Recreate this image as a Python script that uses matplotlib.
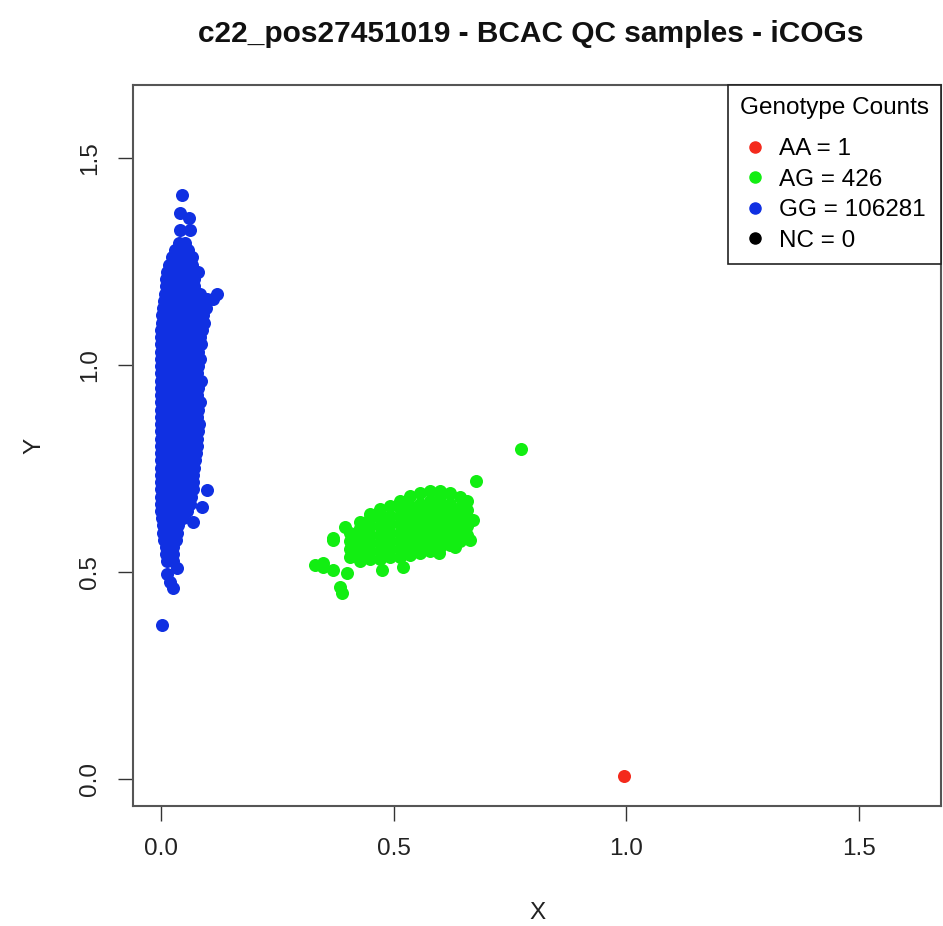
import matplotlib
matplotlib.use("Agg")
import matplotlib.pyplot as plt
from matplotlib.lines import Line2D

plt.rcParams['font.family'] = ['Liberation Sans', 'DejaVu Sans']

# --------------------------------------------------------------------------
# DATA
# --------------------------------------------------------------------------

title = "c22_pos27451019 - BCAC QC samples - iCOGs"
genotypes = ["AA", "AG", "GG", "NC"]
counts = [1, 426, 106281, 0]
colors = ["#f42a1c", "#12ee12", "#1030e2", "#000000"]

# AA: single sample
aa_x = [0.995]
aa_y = [0.007]

# AG cluster, by column: (x, [y values])
ag_cols = [
    (0.331, [0.517]),
    (0.348, [0.512, 0.522]),
    (0.370, [0.505, 0.577, 0.582]),
    (0.385, [0.464]),
    (0.389, [0.449]),
    (0.396, [0.609]),
    (0.400, [0.498]),
    (0.406, [0.535, 0.555, 0.575, 0.595]),
    (0.428, [0.525, 0.545, 0.565, 0.585, 0.605, 0.620]),
    (0.449, [0.530, 0.550, 0.570, 0.590, 0.610, 0.630, 0.640]),
    (0.471, [0.530, 0.550, 0.570, 0.590, 0.610, 0.630, 0.652]),
    (0.475, [0.505]),
    (0.492, [0.535, 0.555, 0.575, 0.595, 0.615, 0.635, 0.660]),
    (0.514, [0.535, 0.555, 0.575, 0.595, 0.615, 0.635, 0.655, 0.670]),
    (0.520, [0.512]),
    (0.535, [0.540, 0.560, 0.580, 0.600, 0.620, 0.640, 0.660, 0.684]),
    (0.557, [0.545, 0.565, 0.585, 0.605, 0.625, 0.645, 0.665, 0.690]),
    (0.578, [0.550, 0.570, 0.590, 0.610, 0.630, 0.650, 0.670, 0.695]),
    (0.598, [0.546]),
    (0.600, [0.560, 0.580, 0.600, 0.620, 0.640, 0.660, 0.680, 0.696]),
    (0.622, [0.565, 0.585, 0.605, 0.625, 0.645, 0.665, 0.690]),
    (0.632, [0.560]),
    (0.643, [0.575, 0.595, 0.615, 0.635, 0.655, 0.680]),
    (0.658, [0.590, 0.610, 0.630, 0.650, 0.670]),
    (0.665, [0.577]),
    (0.671, [0.626]),
    (0.677, [0.720]),
    (0.774, [0.797]),
]

# GG cluster, by row: (y, [x values])
gg_rows = [
    (1.411, [0.045]),
    (1.367, [0.041]),
    (1.355, [0.060]),
    (1.326, [0.041, 0.062]),
    (1.295, [0.038, 0.052]),
    (1.278, [0.030, 0.046, 0.058]),
    (1.260, [0.024, 0.040, 0.056, 0.066]),
    (1.242, [0.018, 0.034, 0.050, 0.066]),
    (1.225, [0.014, 0.030, 0.046, 0.062, 0.080]),
    (1.208, [0.012, 0.028, 0.044, 0.060, 0.072]),
    (1.190, [0.010, 0.026, 0.042, 0.058, 0.072]),
    (1.172, [0.008, 0.024, 0.040, 0.056, 0.072, 0.084, 0.120]),
    (1.160, [0.100, 0.112]),
    (1.155, [0.006, 0.022, 0.038, 0.054, 0.070, 0.086]),
    (1.138, [0.004, 0.020, 0.036, 0.052, 0.068, 0.084, 0.096]),
    (1.120, [0.003, 0.019, 0.035, 0.051, 0.067, 0.083, 0.090]),
    (1.102, [0.002, 0.018, 0.034, 0.050, 0.066, 0.082, 0.092]),
    (1.085, [0.001, 0.017, 0.033, 0.049, 0.065, 0.081, 0.088]),
    (1.068, [0.000, 0.016, 0.032, 0.048, 0.064, 0.080, 0.084]),
    (1.050, [0.000, 0.016, 0.032, 0.048, 0.064, 0.080, 0.086]),
    (1.032, [0.000, 0.016, 0.032, 0.048, 0.064, 0.080]),
    (1.015, [0.000, 0.016, 0.032, 0.048, 0.064, 0.080, 0.084]),
    (0.998, [0.000, 0.016, 0.032, 0.048, 0.064, 0.080]),
    (0.980, [0.000, 0.016, 0.032, 0.048, 0.064, 0.078]),
    (0.962, [0.000, 0.016, 0.032, 0.048, 0.064, 0.080, 0.086]),
    (0.945, [0.000, 0.016, 0.032, 0.048, 0.064, 0.080]),
    (0.928, [0.000, 0.016, 0.032, 0.048, 0.064, 0.078]),
    (0.910, [0.000, 0.016, 0.032, 0.048, 0.064, 0.080, 0.084]),
    (0.892, [0.000, 0.016, 0.032, 0.048, 0.064, 0.080]),
    (0.875, [0.000, 0.016, 0.032, 0.048, 0.064, 0.078]),
    (0.858, [0.000, 0.016, 0.032, 0.048, 0.064, 0.080, 0.082]),
    (0.840, [0.000, 0.016, 0.032, 0.048, 0.064, 0.080]),
    (0.822, [0.000, 0.016, 0.032, 0.048, 0.064, 0.078]),
    (0.805, [0.000, 0.016, 0.032, 0.048, 0.064, 0.078]),
    (0.788, [0.000, 0.016, 0.032, 0.048, 0.064, 0.076]),
    (0.770, [0.000, 0.016, 0.032, 0.048, 0.064, 0.074]),
    (0.752, [0.000, 0.016, 0.032, 0.048, 0.064, 0.072]),
    (0.735, [0.000, 0.016, 0.032, 0.048, 0.064, 0.070]),
    (0.718, [0.000, 0.016, 0.032, 0.048, 0.064, 0.068]),
    (0.700, [0.000, 0.016, 0.032, 0.048, 0.064, 0.068]),
    (0.698, [0.099]),
    (0.682, [0.000, 0.016, 0.032, 0.048, 0.064]),
    (0.665, [0.000, 0.016, 0.032, 0.048, 0.062]),
    (0.657, [0.088]),
    (0.648, [0.000, 0.016, 0.032, 0.048, 0.056]),
    (0.630, [0.002, 0.018, 0.034, 0.048]),
    (0.621, [0.069]),
    (0.612, [0.004, 0.020, 0.036]),
    (0.595, [0.004, 0.020, 0.034]),
    (0.578, [0.006, 0.022, 0.032]),
    (0.560, [0.010, 0.026]),
    (0.543, [0.012, 0.026]),
    (0.525, [0.014, 0.026]),
    (0.510, [0.034]),
    (0.495, [0.013]),
    (0.475, [0.020]),
    (0.461, [0.026]),
    (0.372, [0.002]),
]

x_ticks = [0.0, 0.5, 1.0, 1.5]
y_ticks = [0.0, 0.5, 1.0, 1.5]
x_lim = (-0.060, 1.677)
y_lim = (-0.065, 1.676)

# --------------------------------------------------------------------------
# PLOT
# --------------------------------------------------------------------------

ag_x = [x for x, ys in ag_cols for _ in ys]
ag_y = [y for _, ys in ag_cols for y in ys]
gg_x = [x for _, xs in gg_rows for x in xs]
gg_y = [y for y, xs in gg_rows for _ in xs]

fig = plt.figure(figsize=(9.43, 9.26), dpi=100)
ax = fig.add_axes([0.141, 0.130, 0.857, 0.778])

pt_size = 88
ax.scatter(gg_x, gg_y, s=pt_size, color=colors[2], linewidths=0)
ax.scatter(ag_x, ag_y, s=pt_size, color=colors[1], linewidths=0)
ax.scatter(aa_x, aa_y, s=pt_size, color=colors[0], linewidths=0)

ax.set_xlim(*x_lim)
ax.set_ylim(*y_lim)
ax.set_xticks(x_ticks)
ax.set_yticks(y_ticks)
ax.set_xticklabels([f"{t:.1f}" for t in x_ticks])
ax.set_yticklabels([f"{t:.1f}" for t in y_ticks], rotation=90, va='center')
ax.tick_params(axis='both', direction='out', length=11, width=1.0,
               color='#333333', labelsize=17.5, labelcolor='#222222', pad=12)

for sp in ax.spines.values():
    sp.set_color('#555555')
    sp.set_linewidth(1.5)

ax.set_xlabel("X", fontsize=17.5, color='#222222')
ax.set_ylabel("Y", fontsize=17.5, color='#222222')
ax.xaxis.set_label_coords(0.5, -0.134)
ax.yaxis.set_label_coords(-0.108, 0.5)

fig.suptitle(title, fontsize=21.5, fontweight='bold', x=0.563, y=0.978,
             color='#111111')

handles = [Line2D([], [], marker='o', linestyle='none', markersize=8,
                  markerfacecolor=c, markeredgecolor=c)
           for c in colors]
labels = [f"{g} = {n}" for g, n in zip(genotypes, counts)]
leg = ax.legend(handles, labels, title="Genotype Counts", loc='upper right',
                fontsize=17.5, title_fontsize=17.5, frameon=True,
                fancybox=False, borderaxespad=0.0, labelspacing=0.35,
                handletextpad=0.5, handlelength=1.0, borderpad=0.5)
# R puts a bit more room between the legend title and the first entry
leg._legend_box.sep = 13.5
leg.get_frame().set_edgecolor('#222222')
leg.get_frame().set_linewidth(1.2)
leg.get_frame().set_alpha(1.0)

fig.savefig("out.png", dpi=100)
